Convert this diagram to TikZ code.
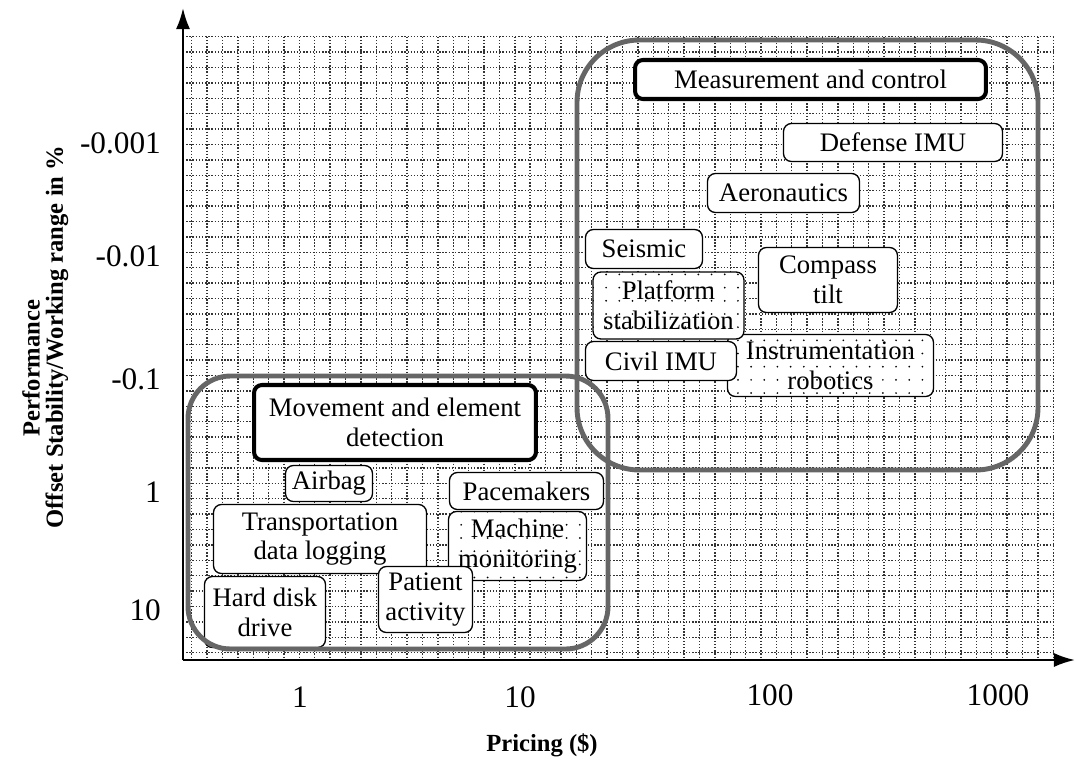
\documentclass[tikz,border=0pt]{standalone}
\usepackage{fontspec}
\setmainfont{Liberation Serif}
\usetikzlibrary{arrows.meta, patterns.meta}

\newcommand{\boxfont}{\fontsize{15.2}{17}\selectfont}
\newcommand{\tickfont}{\fontsize{17.8}{20}\selectfont}
\newcommand{\titlefont}{\fontsize{14}{16}\selectfont\bfseries}

\tikzset{
  app/.style={draw, fill=white, rounded corners=4.5pt, line width=0.75pt, inner sep=0pt, align=center, font=\boxfont},
  market/.style={app, line width=2.3pt},
  dotapp/.style={app, preaction={fill=white}, pattern={Dots[distance=7.5pt, radius=0.55pt]}},
  region/.style={draw=black!60, line width=2.8pt, rounded corners=#1},
  gridline/.style={densely dotted, line width=0.8pt, black!80},
  axis/.style={line width=1.3pt, -{Latex[length=12pt, width=8pt]}},
  ticklabel/.style={font=\tickfont},
  axistitle/.style={font=\titlefont}
}

\begin{document}
\begin{tikzpicture}[x=0.02cm, y=-0.02cm]
\useasboundingbox (0,0) rectangle (1075,762);

% grid
\foreach \i in {0,...,56}
  \draw[gridline] ({191.7+15.386*\i},36.7) -- ({191.7+15.386*\i},660);
\foreach \j in {0,...,40}
  \draw[gridline] (183,{36.7+15.4*\j}) -- (1053.3,{36.7+15.4*\j});

% measurement and control
\node[market, minimum width=7.02cm, minimum height=0.78cm] (meas) at (810.5,79.5) {Measurement and control};
\node[app, minimum width=4.38cm, minimum height=0.76cm] (defense) at (893,142.5) {Defense IMU};
\node[app, minimum width=3.04cm, minimum height=0.78cm] (aero) at (783.5,193) {Aeronautics};
\node[app, minimum width=2.34cm, minimum height=0.78cm] (seismic) at (644,249) {Seismic};
\node[app, minimum width=2.78cm, minimum height=1.30cm] (compass) at (828,280) {Compass\\tilt};
\node[dotapp, minimum width=4.12cm, minimum height=1.24cm] (instr) at (830.5,365.5) {Instrumentation\\robotics};
\node[dotapp, minimum width=3.02cm, minimum height=1.34cm] (platform) at (668.5,305.5) {Platform\\stabilization};
\node[app, minimum width=3.02cm, minimum height=0.78cm] (civil) at (661,361) {Civil IMU};

% movement and element detection
\node[market, minimum width=5.64cm, minimum height=1.50cm] (movement) at (395,422.5) {Movement and element\\detection};
\node[app, minimum width=1.74cm, minimum height=0.72cm] (airbag) at (329,483.5) {Airbag};
\node[app, minimum width=3.08cm, minimum height=0.74cm] (pacemakers) at (526.5,491) {Pacemakers};
\node[app, minimum width=4.26cm, minimum height=1.38cm] (transport) at (320,539) {Transportation\\data logging};
\node[dotapp, minimum width=2.76cm, minimum height=1.38cm] (machine) at (517.5,546) {Machine\\monitoring};
\node[app, minimum width=2.42cm, minimum height=1.42cm] (harddisk) at (265,612) {Hard disk\\drive};
\node[app, minimum width=1.88cm, minimum height=1.32cm] (patient) at (425.5,599.5) {Patient\\activity};

% regions
\draw[region=1.25cm] (577,40) rectangle (1038,470);
\draw[region=0.85cm] (188,376) rectangle (608,649);

% axes
\coordinate (origin) at (183,660);
\coordinate (xend) at (1075,660);
\coordinate (yend) at (183,8);
\draw[axis] (origin) -- (xend);
\draw[axis] (origin) -- (yend);

\node[ticklabel] (x1) at (300,697) {1};
\node[ticklabel] (x10) at (520,697) {10};
\node[ticklabel] (x100) at (770,695) {100};
\node[ticklabel] (x1000) at (998,695) {1000};
\node[ticklabel, anchor=east] (y0001) at (167,143) {-0.001};
\node[ticklabel, anchor=east] (y001) at (167,256) {-0.01};
\node[ticklabel, anchor=east] (y01) at (167,379) {-0.1};
\node[ticklabel, anchor=east] (y1) at (167,492) {1};
\node[ticklabel, anchor=east] (y10) at (167,610) {10};

\node[axistitle] (pricing) at (542,745) {Pricing (\$)};
\node[axistitle, rotate=90] (perf) at (31,368) {Performance};
\node[axistitle, rotate=90] (offset) at (57,337) {Offset Stability/Working range in \%};
\end{tikzpicture}
\end{document}
